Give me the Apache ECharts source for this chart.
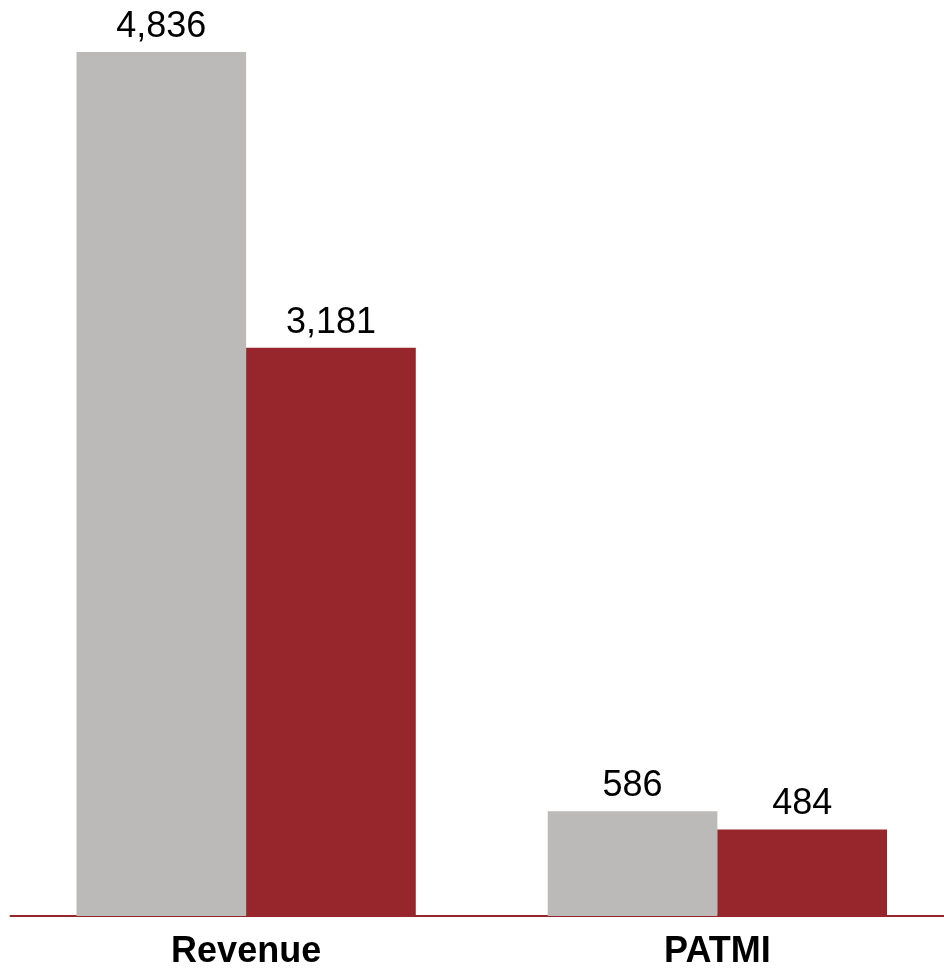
<!DOCTYPE html>
<html>
<head>
<meta charset="utf-8">
<script src="https://cdn.jsdelivr.net/npm/echarts@6/dist/echarts.min.js"></script>
<style>
  html, body { margin: 0; padding: 0; background: #ffffff; overflow: hidden; width: 944px; height: 970px; }
  /* canvas is a little wider than the page so the baseline runs off the right edge */
  #chart { width: 953px; height: 970px; }
</style>
</head>
<body>
<div id="chart"></div>
<script>
// Categories and the two compared periods
const categories = ['Revenue', 'PATMI'];
const priorValues = [4836, 586];
const currentValues = [3181, 484];

const GREY = '#BBBAB9';
const RED = '#96262B';
const FONT = 'Liberation Sans, Arial, sans-serif';

const chart = echarts.init(document.getElementById('chart'), null, { renderer: 'canvas' });

const valueLabel = {
  show: true,
  position: 'top',
  distance: 7,
  color: '#000000',
  fontFamily: FONT,
  fontSize: 36,
  formatter: p => p.value.toLocaleString('en-US')
};

chart.setOption({
  backgroundColor: '#ffffff',
  animation: false,
  grid: { left: 10.5, top: 22.7, right: 0, bottom: 53, containLabel: false },
  xAxis: {
    type: 'category',
    data: categories,
    axisLine: { show: true, lineStyle: { color: RED, width: 2 } },
    axisTick: { show: false },
    axisLabel: {
      color: '#000000',
      fontFamily: FONT,
      fontWeight: 'bold',
      fontSize: 36,
      margin: 18
    }
  },
  yAxis: {
    type: 'value',
    min: 0,
    max: 5000,
    show: false,
    splitLine: { show: false }
  },
  series: [
    {
      type: 'bar',
      data: priorValues,
      barGap: '0%',
      barCategoryGap: '28%',
      itemStyle: { color: GREY },
      label: valueLabel
    },
    {
      type: 'bar',
      data: currentValues,
      barGap: '0%',
      barCategoryGap: '28%',
      itemStyle: { color: RED },
      label: valueLabel
    }
  ]
});
</script>
</body>
</html>
